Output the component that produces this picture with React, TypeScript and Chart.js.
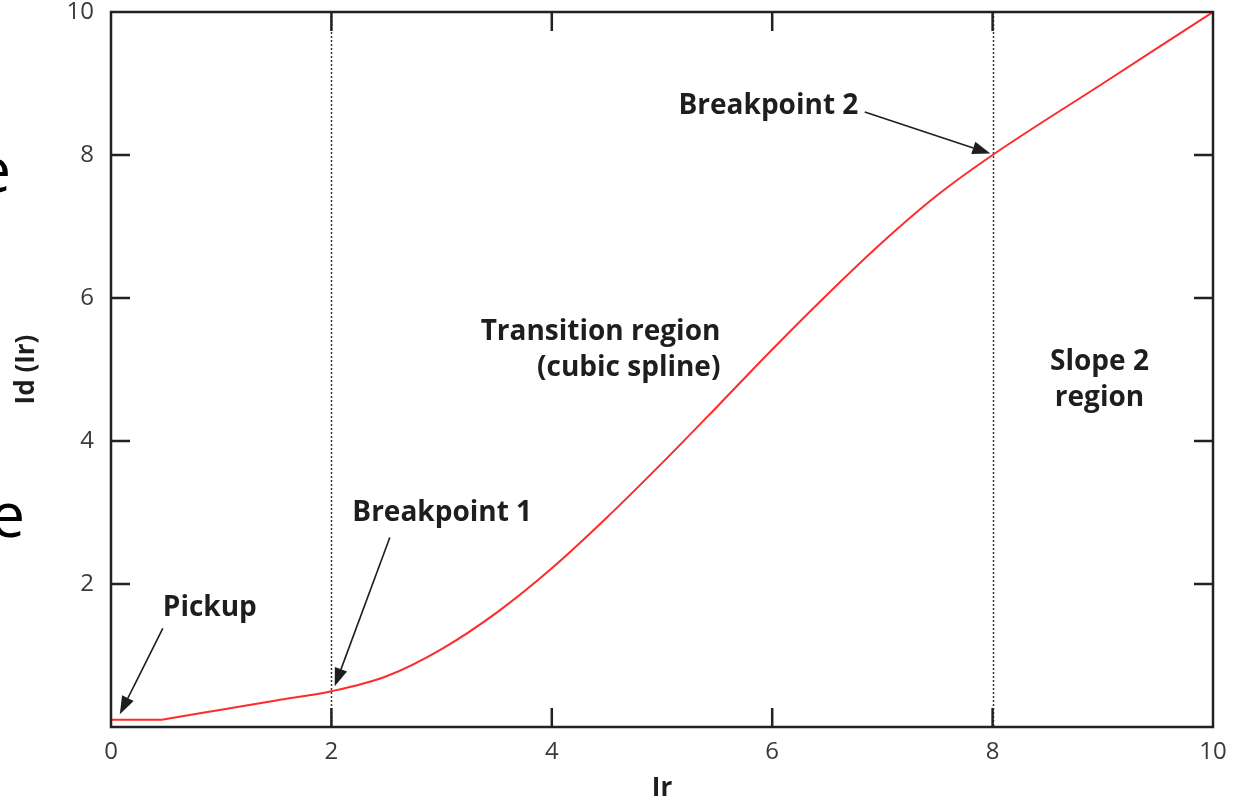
import React, { useEffect, useRef } from "react";
import { Chart, registerables } from "chart.js";

Chart.register(...registerables);

// Restraint characteristic: differential current Id as a function of restraint current Ir
const irValues = [0, 0.45, 0.5, 1, 1.5, 2, 2.5, 3, 3.5, 4, 4.5, 5, 5.5, 6, 6.5, 7, 7.5, 8, 9, 10];
const idValues = [0.1, 0.1, 0.113, 0.242, 0.371, 0.5, 0.71, 1.09, 1.6, 2.22, 2.93, 3.69, 4.48, 5.28, 6.05, 6.78, 7.44, 8.0, 9.0, 10.0];

const xTickValues = [0, 2, 4, 6, 8, 10];
const yTickValues = [2, 4, 6, 8, 10];
const breakpointIr = [2, 8];

// Callout labels (anchor in data units)
const labelTexts = ["Pickup", "Breakpoint 1", "Breakpoint 2", "Transition region", "(cubic spline)", "Slope 2", "region"];
const labelIr = [0.47, 2.19, 5.15, 5.53, 5.53, 8.97, 8.97];
const labelId = [1.67, 2.99, 8.68, 5.52, 5.02, 5.1, 4.6];
const labelAlign: CanvasTextAlign[] = ["left", "left", "left", "right", "right", "center", "center"];

// Arrows: tail -> tip, in data units
const arrowFromIr = [0.47, 2.53, 6.84];
const arrowFromId = [1.38, 2.65, 8.6];
const arrowToIr = [0.08, 2.03, 7.98];
const arrowToId = [0.18, 0.57, 8.02];

const AXIS_COLOR = "#222222";
const LABEL_FONT = "bold 28px 'Open Sans', sans-serif";

const framePlugin = {
  id: "frameAndNotes",
  beforeDatasetsDraw(chart: any) {
    const { ctx, chartArea, scales } = chart;
    ctx.save();
    ctx.strokeStyle = "#333333";
    ctx.lineWidth = 1.5;
    ctx.setLineDash([2, 2]);
    for (const v of breakpointIr) {
      const px = Math.round(scales.x.getPixelForValue(v)) + 0.5;
      ctx.beginPath();
      ctx.moveTo(px, chartArea.top);
      ctx.lineTo(px, chartArea.bottom);
      ctx.stroke();
    }
    ctx.restore();
  },
  afterDatasetsDraw(chart: any) {
    const { ctx, chartArea, scales } = chart;
    const { left, right, top, bottom } = chartArea;
    const tickLen = 19;
    ctx.save();
    ctx.setTransform(1, 0, 0, 1, 0, 0);
    ctx.strokeStyle = AXIS_COLOR;
    ctx.lineWidth = 2.5;
    ctx.strokeRect(left, top, right - left, bottom - top);
    ctx.beginPath();
    for (const v of xTickValues) {
      if (v === 0 || v === 10) continue;
      const px = scales.x.getPixelForValue(v);
      ctx.moveTo(px, bottom);
      ctx.lineTo(px, bottom - tickLen);
      ctx.moveTo(px, top);
      ctx.lineTo(px, top + tickLen);
    }
    for (const v of yTickValues) {
      if (v === 10) continue;
      const py = scales.y.getPixelForValue(v);
      ctx.moveTo(left, py);
      ctx.lineTo(left + tickLen, py);
      ctx.moveTo(right, py);
      ctx.lineTo(right - tickLen, py);
    }
    ctx.stroke();

    // callout text
    ctx.fillStyle = "#1e1e1e";
    ctx.font = LABEL_FONT;
    ctx.textBaseline = "middle";
    labelTexts.forEach((t, i) => {
      ctx.textAlign = labelAlign[i];
      ctx.fillText(t, scales.x.getPixelForValue(labelIr[i]), scales.y.getPixelForValue(labelId[i]));
    });

    // arrows
    ctx.strokeStyle = "#1e1e1e";
    ctx.fillStyle = "#1e1e1e";
    ctx.lineWidth = 1.6;
    for (let i = 0; i < arrowFromIr.length; i++) {
      const x0 = scales.x.getPixelForValue(arrowFromIr[i]);
      const y0 = scales.y.getPixelForValue(arrowFromId[i]);
      const x1 = scales.x.getPixelForValue(arrowToIr[i]);
      const y1 = scales.y.getPixelForValue(arrowToId[i]);
      const ang = Math.atan2(y1 - y0, x1 - x0);
      const headLen = 18;
      const headHalf = 6.5;
      const bx = x1 - headLen * Math.cos(ang);
      const by = y1 - headLen * Math.sin(ang);
      ctx.beginPath();
      ctx.moveTo(x0, y0);
      ctx.lineTo(bx, by);
      ctx.stroke();
      ctx.beginPath();
      ctx.moveTo(x1, y1);
      ctx.lineTo(bx + headHalf * Math.sin(ang), by - headHalf * Math.cos(ang));
      ctx.lineTo(bx - headHalf * Math.sin(ang), by + headHalf * Math.cos(ang));
      ctx.closePath();
      ctx.fill();
    }

    // slide text running off the left edge
    ctx.fillStyle = "#000000";
    ctx.font = "400 62px 'Open Sans', sans-serif";
    ctx.textAlign = "right";
    ctx.textBaseline = "alphabetic";
    ctx.fillText("e", 11, 192);
    ctx.fillText("e", 25, 537);
    ctx.restore();
  },
};

export default function App() {
  const canvasRef = useRef<HTMLCanvasElement | null>(null);

  useEffect(() => {
    document.body.style.margin = "0";
    const canvas = canvasRef.current;
    if (!canvas) return;
    const points = irValues.map((x, i) => ({ x, y: idValues[i] }));
    const chart = new Chart(canvas, {
      type: "line",
      data: {
        datasets: [
          {
            data: points,
            borderColor: "#ff2b2b",
            borderWidth: 2,
            pointRadius: 0,
            cubicInterpolationMode: "monotone",
            fill: false,
          },
        ],
      },
      options: {
        animation: false,
        responsive: false,
        devicePixelRatio: 1,
        layout: { padding: { left: 0, right: 27, top: 12, bottom: 0 } },
        plugins: { legend: { display: false }, tooltip: { enabled: false } },
        scales: {
          x: {
            type: "linear",
            min: 0,
            max: 10,
            afterBuildTicks: (scale: any) => {
              scale.ticks = xTickValues.map((v) => ({ value: v }));
            },
            afterFit: (scale: any) => {
              scale.height = 74;
              scale.paddingLeft = 0;
              scale.paddingRight = 0;
            },
            grid: { display: false, drawTicks: false },
            border: { display: false },
            ticks: {
              padding: 11,
              color: "#3a3a3a",
              font: { family: "'Open Sans', sans-serif", size: 24 },
              maxRotation: 0,
            },
            title: {
              display: true,
              text: "Ir",
              color: "#1e1e1e",
              font: { family: "'Open Sans', sans-serif", size: 26, weight: "bold", lineHeight: 1 },
              padding: { top: 0, bottom: -1 },
            },
          },
          y: {
            type: "linear",
            min: 0,
            max: 10,
            afterBuildTicks: (scale: any) => {
              scale.ticks = yTickValues.map((v) => ({ value: v }));
            },
            afterFit: (scale: any) => {
              scale.width = 111;
              scale.paddingTop = 0;
              scale.paddingBottom = 0;
            },
            grid: { display: false, drawTicks: false },
            border: { display: false },
            ticks: {
              padding: 17,
              color: "#3a3a3a",
              font: { family: "'Open Sans', sans-serif", size: 24 },
            },
            title: {
              display: true,
              text: "Id (Ir)",
              color: "#1e1e1e",
              font: { family: "'Open Sans', sans-serif", size: 26, weight: "bold", lineHeight: 1 },
              padding: { top: 14, bottom: 0 },
            },
          },
        },
      },
      plugins: [framePlugin],
    });
    return () => chart.destroy();
  }, []);

  return (
    <div style={{ position: "fixed", left: 0, top: 0, width: 1240, height: 801, background: "#ffffff" }}>
      <canvas ref={canvasRef} width={1240} height={801} />
    </div>
  );
}
